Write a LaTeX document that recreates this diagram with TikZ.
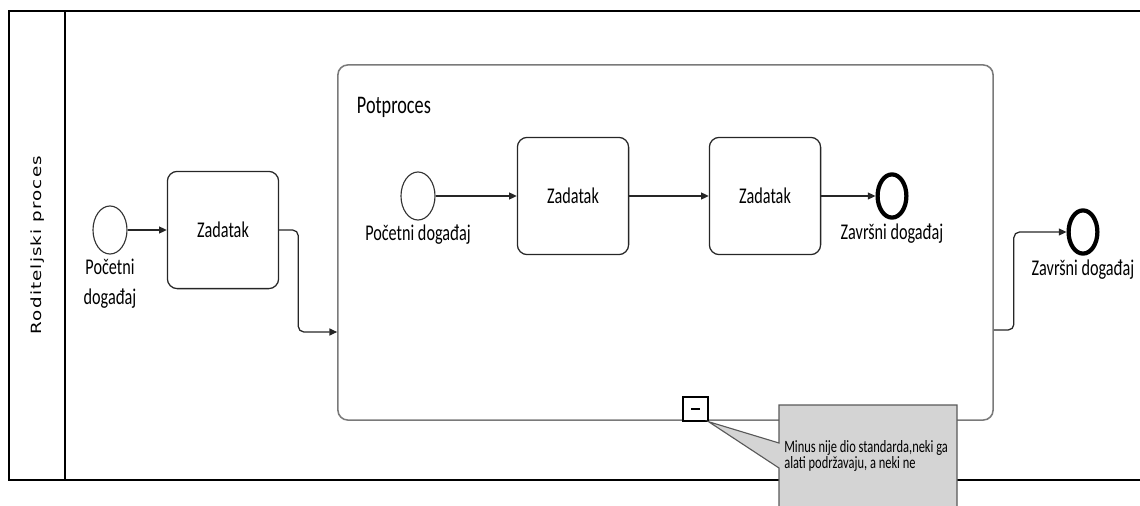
\documentclass[tikz,border=0pt]{standalone}
\usepackage{fontspec}
\setmainfont{Carlito}[FakeStretch=0.72]
\newfontfamily\poolfont{DejaVu Sans}[FakeStretch=1.3, LetterSpace=8]
\usepackage{tikz}
\usetikzlibrary{positioning,shapes.geometric,arrows.meta,calc}
\definecolor{notegray}{HTML}{D4D4D4}
\definecolor{subline}{HTML}{7A7A7A}
\newcommand{\lbl}{\fontsize{16}{21}\selectfont}

\begin{document}
\begin{tikzpicture}[
  x=0.025cm, y=-0.025cm,
  font=\lbl,
  task/.style={draw=black!85, line width=0.9pt, rounded corners=7pt, minimum width=2.78cm, minimum height=2.93cm, align=center},
  startev/.style={ellipse, draw=black!80, line width=0.8pt, minimum width=0.85cm, minimum height=1.2cm, inner sep=0pt},
  endev/.style={ellipse, draw=black, line width=3pt, minimum width=0.72cm, minimum height=1.08cm, inner sep=0pt},
  evlabel/.style={align=center, inner sep=1pt},
  arr/.style={-{Triangle[length=5.5pt,width=5pt]}, line width=0.9pt, black!85, rounded corners=4pt}
]
\useasboundingbox (0,0) rectangle (1140,506);
\draw[line width=1pt] (1140,11) -- (9,11) -- (9,480) -- (1140,480);
\draw[line width=1pt] (65,11) -- (65,480);
\node[rotate=90, font=\poolfont\fontsize{10}{12}\selectfont] (pool) at (38,245) {Roditeljski proces};

\node[draw=subline, line width=1.1pt, rounded corners=7pt, minimum width=16.375cm, minimum height=8.875cm] (sub) at (665.5,242.5) {};
\node[anchor=west, font=\fontsize{18}{22}\selectfont] (subname) at (352,107) {Potproces};

\node[startev] (start) at (110,230) {};
\node[evlabel, below=2pt of start] (startlbl) {Početni\\događaj};
\node[task] (task1) at (223,230) {Zadatak};

\node[startev] (istart) at (418,196) {};
\node[evlabel, below=2pt of istart] (istartlbl) {Početni događaj};
\node[task] (itask1) at (573,196) {Zadatak};
\node[task] (itask2) at (765,196) {Zadatak};
\node[endev] (iend) at (892,196) {};
\node[evlabel, below=2pt of iend] (iendlbl) {Završni događaj};

\node[endev] (end) at (1083,232) {};
\node[evlabel, below=2pt of end] (endlbl) {Završni događaj};

\draw[arr] (start) -- (task1);
\draw[arr] (task1.east) -- ++(19,0) |- ($(sub.west)+(0,89.5)$);
\draw[arr] ($(sub.east)+(0,87.5)$) -- ++(20,0) |- (end.west);
\draw[arr] (istart) -- (itask1);
\draw[arr] (itask1) -- (itask2);
\draw[arr] (itask2) -- (iend);

\node[draw=black, fill=white, line width=1pt, minimum width=0.62cm, minimum height=0.6cm, inner sep=0pt] (minus) at (695.5,409) {\rule{6pt}{2pt}};
\draw[draw=black!65, fill=notegray, line width=0.8pt] (779,468) -- (minus.south east) -- (779,443) -- (779,405) -- (957,405) -- (957,530) -- (779,530) -- cycle;
\node[anchor=north west, align=left, inner sep=0pt, font=\fontsize{12.3}{10.6}\selectfont] (notetext) at (784,440) {Minus nije dio standarda,neki ga\\alati podržavaju, a neki ne};
\end{tikzpicture}
\end{document}
